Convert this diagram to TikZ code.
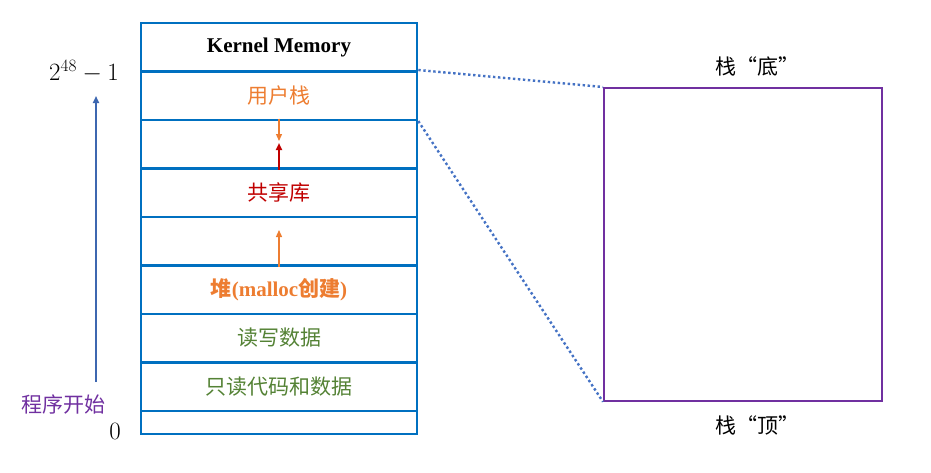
\documentclass[tikz,border=0pt]{standalone}
\usepackage{fontspec}
\setmainfont{Liberation Serif}
\newfontfamily\cjk{Noto Sans CJK SC}
\usetikzlibrary{arrows.meta}
\definecolor{memblue}{HTML}{0070C0}
\definecolor{dotblue}{HTML}{4472C4}
\definecolor{uorange}{HTML}{ED7D31}
\definecolor{ured}{HTML}{C00000}
\definecolor{ugreen}{HTML}{548235}
\definecolor{upurple}{HTML}{7030A0}
\begin{document}
\begin{tikzpicture}[x=1pt,y=-1pt,
  row/.style={draw=memblue,line width=2.6pt,minimum width=276pt,minimum height=48.5pt,inner sep=0pt,anchor=north,font=\fontsize{21}{24}\selectfont\cjk},
  tip/.style={-{Triangle[length=7pt,width=6pt]},line width=1.5pt},
  lbl/.style={inner sep=0pt,font=\fontsize{21}{24}\selectfont\cjk}]
\useasboundingbox (0,0) rectangle (931,472);
\node[row] (kern) at (279,21.5) {\normalfont\bfseries\fontsize{21}{24}\selectfont Kernel Memory};
\node[row,text=uorange] (ustack) at (279,70) {用户栈};
\node[row] (gap1) at (279,118.5) {};
\node[row,text=ured] (shlib) at (279,167) {共享库};
\node[row] (gap2) at (279,215.5) {};
\node[row,text=uorange] (heap) at (279,264) {\bfseries 堆\normalfont\bfseries(malloc\cjk\bfseries 创建\normalfont\bfseries)};
\node[row,text=ugreen] (rw) at (279,312.5) {读写数据};
\node[row,text=ugreen] (ro) at (279,361) {只读代码和数据};
\node[row,minimum height=23pt] (bot) at (279,409.5) {};
\coordinate (a1) at (279,141);
\coordinate (a2) at (279,143);
\coordinate (a3) at (279,230);
\draw[tip,draw=uorange,fill=uorange,line width=1.3pt] (gap1.north) -- (a1);
\draw[tip,draw=ured,fill=ured,line width=1.8pt] (gap1.south) -- (a2);
\draw[tip,draw=uorange,fill=uorange,line width=1.3pt] (gap2.south) -- (a3);
\node[draw=upurple,line width=1.8pt,minimum width=278pt,minimum height=313pt,anchor=north west,inner sep=0pt] (stk) at (603,87) {};
\node[lbl] (sb) at (757,66) {栈“底”};
\node[lbl] (st) at (757,425) {栈“顶”};
\draw[dotblue,line width=2.4pt,dash pattern=on 2.4pt off 2.6pt] (ustack.north east) -- (stk.north west);
\draw[dotblue,line width=2.4pt,dash pattern=on 2.4pt off 2.6pt] (ustack.south east) -- (stk.south west);
\node[inner sep=0pt,font=\fontsize{23}{26}\selectfont] (top) at (84,71) {$2^{48}-1$};
\node[lbl,text=upurple] (start) at (63,405) {程序开始};
\node[inner sep=0pt,font=\fontsize{23}{26}\selectfont] (zero) at (115,431) {$0$};
\coordinate (s0) at (96,382);
\coordinate (s1) at (96,96);
\draw[tip,draw=dotblue!90!black,fill=dotblue!90!black,line width=1.6pt] (s0) -- (s1);
\end{tikzpicture}
\end{document}
